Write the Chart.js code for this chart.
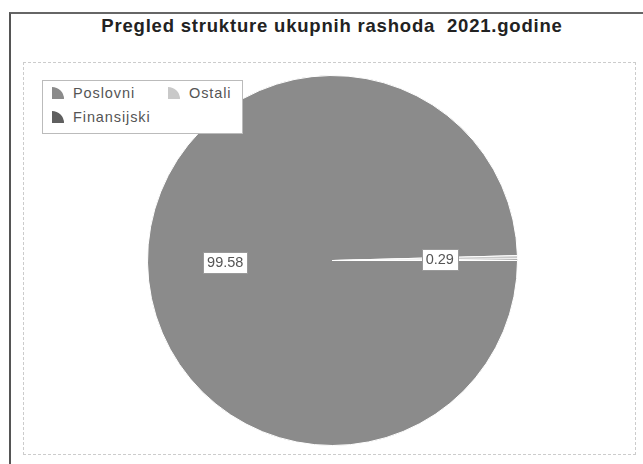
<!DOCTYPE html>
<html>
<head>
<meta charset="utf-8">
<script src="https://cdn.jsdelivr.net/npm/chart.js@4"></script>
<style>
  html, body { margin: 0; padding: 0; background: #fff; }
  #wrap { position: relative; width: 643px; height: 464px; overflow: hidden; font-family: "Liberation Sans", Arial, sans-serif; }
  #outer { position: absolute; left: 9px; top: 12px; width: 640px; height: 460px; border-left: 2px solid #555; border-top: 2px solid #666; }
  #inner { position: absolute; left: 23px; top: 62px; width: 611px; height: 391px; border: 1px dashed #ccc; }
  #title { position: absolute; left: 0; width: 664px; top: 15px; text-align: center; font-weight: bold; font-size: 18.5px; letter-spacing: 0.8px; color: #222; white-space: pre; }
  canvas { position: absolute; left: 0; top: 0; }
  #legend { position: absolute; left: 42px; top: 80px; width: 199px; height: 52px; border: 1px solid #bbb; background: #fff; font-size: 14.5px; letter-spacing: 0.9px; color: #555; }
  .item { position: absolute; display: flex; align-items: center; height: 18px; }
  .ic { width: 12px; height: 12px; border-top-right-radius: 100%; margin-right: 9px; }
</style>
</head>
<body>
<div id="wrap">
  <div id="outer"></div>
  <div id="inner"></div>
  <div id="title"></div>
  <canvas id="c" width="643" height="464"></canvas>
  <div id="legend"></div>
</div>
<script>
const titleText = "Pregled strukture ukupnih rashoda  2021.godine";
const categories = ["Poslovni", "Ostali", "Finansijski"];
const values = [99.58, 0.29, 0.13];
const labelsShown = ["99.58", "0.29", null];
const colors = ["#8b8b8b", "#c9c9c9", "#5f5f5f"];

document.getElementById('title').textContent = titleText;

// legend (HTML)
const legend = document.getElementById('legend');
const legendPos = [[9, 3], [125, 3], [9, 27]];
categories.forEach((c, i) => {
  const d = document.createElement('div');
  d.className = 'item';
  d.style.left = legendPos[i][0] + 'px';
  d.style.top = legendPos[i][1] + 'px';
  const ic = document.createElement('span');
  ic.className = 'ic';
  ic.style.background = colors[i];
  d.appendChild(ic);
  const t = document.createElement('span');
  t.textContent = c;
  d.appendChild(t);
  legend.appendChild(d);
});

const labelPlugin = {
  id: 'valueLabels',
  afterDatasetsDraw(chart) {
    const ctx = chart.ctx;
    const meta = chart.getDatasetMeta(0);
    ctx.save();
    ctx.font = '14.5px "Liberation Sans", Arial, sans-serif';
    ctx.textAlign = 'center';
    ctx.textBaseline = 'middle';
    meta.data.forEach((arc, i) => {
      const txt = labelsShown[i];
      if (!txt) return;
      const p = arc.getProps(['x', 'y', 'startAngle', 'endAngle', 'outerRadius'], true);
      const mid = (p.startAngle + p.endAngle) / 2;
      const r = p.outerRadius * 0.58;
      const x = p.x + Math.cos(mid) * r;
      const y = p.y + Math.sin(mid) * r;
      const w = Math.round(ctx.measureText(txt).width + 8);
      const bx = Math.round(x - w / 2), by = Math.round(y - 10);
      ctx.fillStyle = '#fff';
      ctx.fillRect(bx, by, w, 21);
      ctx.strokeStyle = '#999';
      ctx.lineWidth = 1;
      ctx.strokeRect(bx + 0.5, by + 0.5, w, 21);
      ctx.fillStyle = '#555';
      ctx.fillText(txt, x, y + 1.5);
    });
    ctx.restore();
  }
};

new Chart(document.getElementById('c'), {
  type: 'pie',
  data: {
    labels: categories,
    datasets: [{
      data: values,
      backgroundColor: colors,
      borderColor: '#ffffff',
      borderWidth: 1
    }]
  },
  options: {
    responsive: false,
    animation: false,
    rotation: 90,
    layout: { padding: { left: 22, right: 0, top: 75, bottom: 18 } },
    plugins: {
      legend: { display: false },
      tooltip: { enabled: false },
      title: { display: false }
    }
  },
  plugins: [labelPlugin]
});
</script>
</body>
</html>
